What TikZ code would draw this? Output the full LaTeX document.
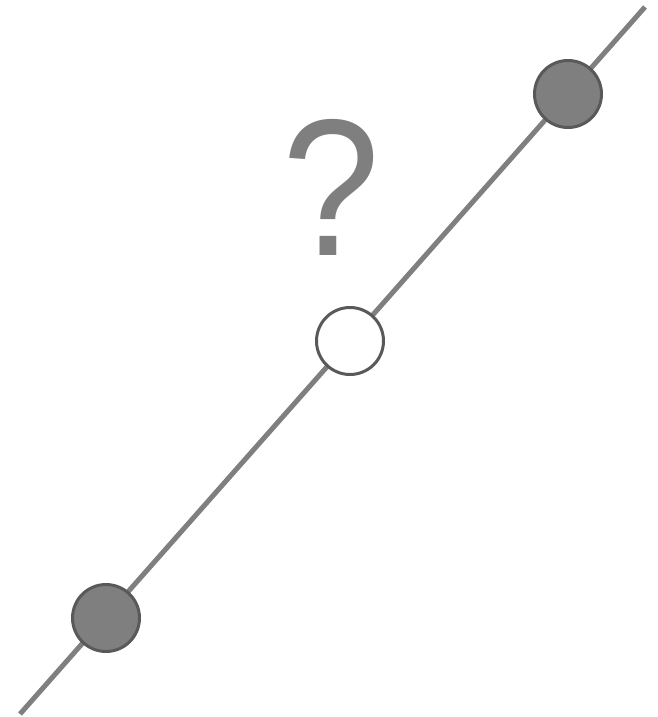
\documentclass[tikz,border=0pt]{standalone}
\usepackage{fontspec}
\setmainfont{Liberation Sans}
\definecolor{linegray}{HTML}{7F7F7F}
\definecolor{rimgray}{HTML}{595959}
\tikzset{
    known/.style={circle,draw=rimgray,line width=3pt,fill=linegray,minimum size=67pt,inner sep=0pt},
    unknown/.style={circle,draw=rimgray,line width=3pt,fill=white,minimum size=67pt,inner sep=0pt}
}
\begin{document}
\begin{tikzpicture}[x=1pt,y=-1pt]
    \useasboundingbox(0,0)rectangle(658,717);
    %retta
    \coordinate(lo)at(20,714);
    \coordinate(hi)at(645,7);
    \draw[linegray,line width=5pt](lo)--(hi);
    %punti noti e punto cercato
    \node[known](p1)at(106,618){};
    \node[unknown](pm)at(350,341){};
    \node[known](p2)at(568,94){};
    %domanda
    \node[anchor=base,text=linegray,inner sep=0pt,xscale=0.9,transform shape,font=\fontsize{195}{200}\selectfont](q)at(331,255){?};
\end{tikzpicture}
\end{document}
